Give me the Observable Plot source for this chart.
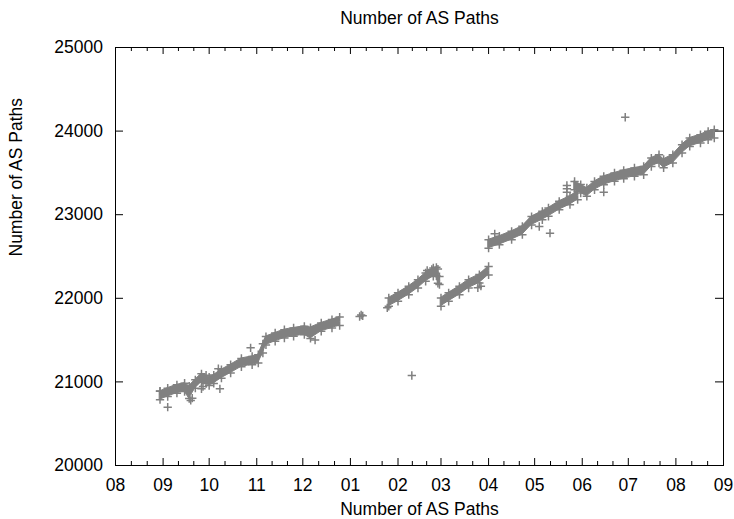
<!DOCTYPE html>
<html><head><meta charset="utf-8">
<script src="https://cdn.jsdelivr.net/npm/d3@7"></script>
<script src="https://cdn.jsdelivr.net/npm/@observablehq/plot@0.6"></script>
<style>body{margin:0;background:#fff} svg{display:block}</style>
</head><body><div id="chart"></div>
<script>
const titleText = "Number of AS Paths";
const xLabel = "Number of AS Paths";
const yLabel = "Number of AS Paths";
const monthTicks = ["2008-08-01","2008-09-01","2008-10-01","2008-11-01","2008-12-01","2009-01-01","2009-02-01","2009-03-01","2009-04-01","2009-05-01","2009-06-01","2009-07-01","2009-08-01","2009-09-01"];
const yTicks = [20000,21000,22000,23000,24000,25000];

// dense bands of points: [date, low, high]
const segA = [
 ["2008-08-30",20787,20887],["2008-09-04",20825,20925],["2008-09-10",20865,20965],["2008-09-15",20885,20985],
 ["2008-09-18",20800,20950],["2008-09-22",20925,21025],["2008-09-26",20997,21097],["2008-09-29",20980,21080],
 ["2008-10-01",20957,21057],["2008-10-04",20982,21082],["2008-10-09",21045,21145],["2008-10-15",21105,21205],
 ["2008-10-22",21180,21280],["2008-10-29",21205,21305],["2008-11-02",21225,21325],["2008-11-05",21345,21455],
 ["2008-11-07",21442,21542],["2008-11-13",21485,21585],["2008-11-19",21525,21625],["2008-11-25",21545,21645],
 ["2008-12-02",21565,21665],["2008-12-06",21520,21650],["2008-12-13",21605,21705],["2008-12-20",21645,21745],
 ["2008-12-25",21675,21775]
];
const segB = [
 ["2009-01-26",21905,22005],["2009-02-01",21965,22065],["2009-02-08",22043,22143],["2009-02-14",22123,22223],
 ["2009-02-19",22203,22303],["2009-02-24",22262,22362],["2009-02-26",22270,22370],["2009-02-27",22180,22350],
 ["2009-02-28",22165,22260]
];
const segC = [
 ["2009-03-01",21905,22005],["2009-03-06",21965,22065],["2009-03-13",22043,22143],["2009-03-19",22123,22223],
 ["2009-03-26",22184,22284],["2009-04-01",22280,22380]
];
const segD = [
 ["2009-04-01",22600,22700],["2009-04-08",22642,22742],["2009-04-16",22701,22801],["2009-04-23",22761,22861],
 ["2009-04-29",22877,22977],["2009-05-06",22940,23040],["2009-05-10",22980,23080],["2009-05-17",23060,23160],
 ["2009-05-24",23120,23220],["2009-05-29",23180,23280]
];
const segE = [
 ["2009-05-27",23297,23397],["2009-05-31",23260,23360],["2009-06-04",23220,23320],["2009-06-09",23297,23397],
 ["2009-06-15",23359,23459],["2009-06-22",23399,23499],["2009-06-28",23431,23531],["2009-07-05",23459,23559],
 ["2009-07-11",23477,23577],["2009-07-16",23577,23677],["2009-07-21",23618,23718],["2009-07-24",23562,23662],
 ["2009-07-30",23618,23718],["2009-08-05",23737,23837],["2009-08-10",23817,23917],["2009-08-17",23857,23957],
 ["2009-08-22",23897,23997],["2009-08-26",23916,24016]
];
// isolated points: [date, value]
const outliers = [
 ["2008-09-04",20698],["2008-08-30",20890],["2008-09-19",20778],["2008-09-20",20805],["2008-09-26",20917],
 ["2008-09-27",20945],["2008-10-08",20917],["2008-10-07",21157],["2008-10-28",21408],["2008-12-09",21500],
 ["2009-01-07",21782],["2009-01-08",21800],["2009-01-09",21790],["2009-01-25",21886],["2009-02-10",21077],
 ["2009-02-20",22333],["2009-02-23",22345],["2009-03-25",22125],["2009-03-27",22145],["2009-04-05",22771],
 ["2009-05-04",22859],["2009-05-11",22779],["2009-05-22",23349],["2009-05-22",23310],["2009-05-22",23270],
 ["2009-06-15",23270],["2009-06-29",24166]
];

const parse = d3.utcParse("%Y-%m-%d");
const band = [];
[["A",segA],["B",segB],["C",segC],["D",segD],["E",segE]].forEach(([seg, arr]) =>
  arr.forEach(([d, lo, hi]) => band.push({seg, date: parse(d), lo, hi})));
const pts = outliers.map(([d, v]) => ({date: parse(d), v}));
const majors = monthTicks.map(parse);
const minors = [];
for (let i = 0; i < majors.length - 1; i++) {
  const a = +majors[i], b = +majors[i + 1];
  minors.push(new Date(a + (b - a) / 3), new Date(a + 2 * (b - a) / 3));
}

const W = 734, H = 519, mT = 47, mB = 54, mL = 115, mR = 11;
const fH = H - mT - mB, fW = W - mL - mR;
const gray = "#808080";
const fs = 17.5;

const chart = Plot.plot({
  width: W, height: H, marginTop: mT, marginBottom: mB, marginLeft: mL, marginRight: mR,
  x: {type: "utc", domain: [majors[0], majors[majors.length - 1]]},
  y: {domain: [20000, 25000]},
  style: {fontFamily: "'Liberation Sans', Arial, sans-serif", fontSize: fs + "px", background: "#fff", color: "#000"},
  marks: [
    Plot.areaY(band, {x: "date", y1: "lo", y2: "hi", z: "seg", fill: gray, stroke: gray, strokeWidth: 1}),
    Plot.dot(band, {x: "date", y: "lo", symbol: "plus", r: 2.8, stroke: gray}),
    Plot.dot(band, {x: "date", y: "hi", symbol: "plus", r: 2.8, stroke: gray}),
    Plot.dot(pts, {x: "date", y: "v", symbol: "plus", r: 2.8, stroke: gray}),
    Plot.frame({stroke: "#000"}),
    Plot.tickX(majors, {x: d => d, insetTop: fH - 7, stroke: "#000"}),
    Plot.tickX(majors, {x: d => d, insetBottom: fH - 7, stroke: "#000"}),
    Plot.tickX(minors, {x: d => d, insetTop: fH - 4, stroke: "#000"}),
    Plot.tickX(minors, {x: d => d, insetBottom: fH - 4, stroke: "#000"}),
    Plot.tickY(yTicks, {y: d => d, insetRight: fW - 8, stroke: "#000"}),
    Plot.tickY(yTicks, {y: d => d, insetLeft: fW - 8, stroke: "#000"}),
    Plot.axisX({ticks: majors, tickFormat: d3.utcFormat("%m"), tickSize: 0, tickPadding: 13, label: null, fontSize: fs}),
    Plot.axisY({ticks: yTicks, tickFormat: d3.format("d"), tickSize: 0, tickPadding: 12.5, label: null, fontSize: fs}),
    Plot.text([titleText], {text: d => d, frameAnchor: "top", lineAnchor: "middle", dy: -29, fontSize: fs}),
    Plot.text([xLabel], {text: d => d, frameAnchor: "bottom", lineAnchor: "middle", dy: 44, fontSize: fs}),
    Plot.text([yLabel], {text: d => d, frameAnchor: "left", lineAnchor: "middle", dx: -99, rotate: -90, fontSize: fs})
  ]
});
document.getElementById("chart").appendChild(chart);
</script>
</body></html>
